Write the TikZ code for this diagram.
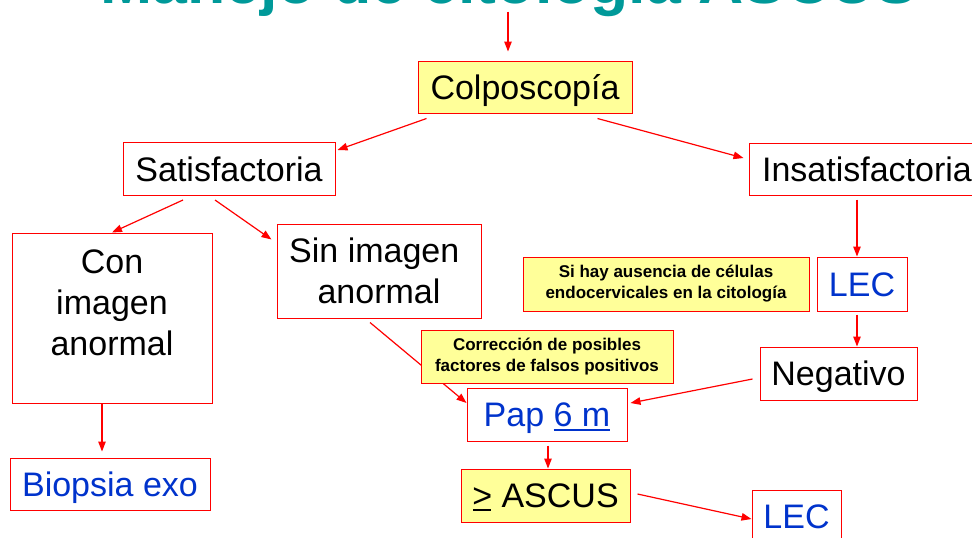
\documentclass[tikz,border=0pt]{standalone}
\usepackage{fontspec}
\setmainfont{Liberation Sans}
\usetikzlibrary{arrows.meta,calc}
\definecolor{ttl}{RGB}{0,153,153}
\definecolor{yel}{RGB}{255,255,153}
\definecolor{txtblue}{RGB}{0,51,204}
\newcommand{\myul}[1]{\setbox0\hbox{#1}\rlap{\rule[-4.5pt]{\wd0}{2.5pt}}#1}
\newcommand{\mygeq}{\rlap{\hspace{1pt}\rule[-3pt]{18pt}{1.3pt}}>}
\begin{document}
\begin{tikzpicture}[x=1pt,y=-1pt,
  frame/.style={draw=red,line width=1pt,fill=white,rectangle,inner sep=0pt},
  big/.style={font=\fontsize{34}{41}\selectfont,text height=25.5pt,text depth=1.5pt},
  bigml/.style={font=\fontsize{34}{41}\selectfont,align=center,inner sep=0pt},
  small/.style={font=\fontsize{17}{21}\selectfont\bfseries,align=center},
  blue/.style={text=txtblue},
  arr/.style={draw=red,line width=1.2pt,-{Triangle[length=10pt,width=7.5pt]}}
]
\useasboundingbox (0,0) rectangle (972,538);

\node[font=\fontsize{62.6}{70}\selectfont\bfseries,text=ttl,anchor=base,inner sep=0pt] (title) at (509,3.3) {Manejo de citología ASCUS};

\node[frame,big,fill=yel,minimum width=214pt,minimum height=52pt] (colp) at (525,87) {Colposcopía};
\node[frame,big,minimum width=212pt,minimum height=53pt] (sat) at (229,169) {Satisfactoria};
\node[frame,big,minimum width=236pt,minimum height=52pt] (insat) at (867,169) {Insatisfactoria};

\node[frame,minimum width=200pt,minimum height=170pt] (conbox) at (112,318) {};
\node[bigml,anchor=north] (con) at (112,250) {Con\\imagen\\anormal};

\node[frame,bigml,minimum width=204pt,minimum height=94pt] (sin) at (379,271) {Sin imagen\hspace*{9.45pt}\\anormal};

\node[frame,small,fill=yel,minimum width=286pt,minimum height=54pt] (sihay) at (666,284) {Si hay ausencia de células\\endocervicales en la citología};
\node[frame,big,blue,minimum width=90pt,minimum height=54pt] (lec1) at (862,284) {LEC};
\node[frame,big,minimum width=157pt,minimum height=53pt] (neg) at (838.5,373.5) {Negativo};
\node[frame,big,blue,minimum width=160pt,minimum height=53pt] (pap) at (547,414.5) {Pap \myul{6 m}};
\node[frame,big,blue,minimum width=200pt,minimum height=52pt] (biop) at (110,484) {Biopsia exo};
\node[frame,big,fill=yel,minimum width=169pt,minimum height=53pt] (ascus) at (545.5,495.5) {\mygeq{} ASCUS};
\node[frame,big,blue,minimum width=89pt,minimum height=53pt] (lec2) at (796.5,516.5) {LEC};

\draw[arr] ($(colp.north)+(-17,-49)$) -- ($(colp.north)+(-17,-9)$);
\draw[arr] ($(colp.south west)+(9,5)$) -- ($(sat.north east)+(2,8)$);
\draw[arr] ($(colp.south east)+(-35,5)$) -- ($(insat.west)+(-5,-11)$);
\draw[arr] ($(sat.south)+(-46,4)$) -- (conbox.north);
\draw[arr] ($(sat.south)+(-14,4)$) -- ($(sin.north west)+(-5,16)$);
\draw[arr] ($(insat.south)+(-10,4)$) -- ($(lec1.north)+(-5,0)$);
\draw[arr] ($(lec1.south)+(-5,3)$) -- ($(neg.north)+(18.5,0)$);
\draw[arr] ($(neg.west)+(-7,5.5)$) -- ($(pap.east)+(3,-11.5)$);
\draw[arr] ($(sin.south)+(-9,4)$) -- ($(pap.west)+(0,-11.5)$);
\draw[arr] ($(pap.south)+(1,4)$) -- ($(ascus.north)+(2.5,0)$);
\draw[arr] ($(conbox.south)+(-10,0)$) -- ($(biop.north)+(-8,-6)$);
\draw[arr] ($(ascus.east)+(7,-1.5)$) -- ($(lec2.west)+(0,2.5)$);

\node[frame,small,fill=yel,minimum width=252pt,minimum height=53pt] (corr) at (547,356.5) {Corrección de posibles\\factores de falsos positivos};
\end{tikzpicture}
\end{document}
